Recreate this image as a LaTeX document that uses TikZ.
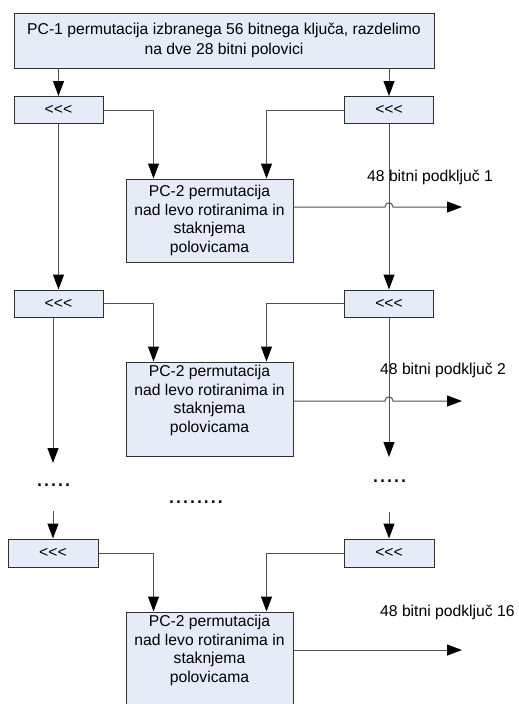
\documentclass[tikz,border=0pt]{standalone}
\usepackage{fontspec}
\setmainfont{Liberation Sans}
\usetikzlibrary{arrows.meta}
\definecolor{boxfill}{HTML}{E6ECF7}
\definecolor{linec}{HTML}{505050}
\definecolor{boxline}{HTML}{303030}
\begin{document}
\begin{tikzpicture}[x=1pt,y=-1pt,
  box/.style={draw=boxline, fill=boxfill, line width=1pt, inner sep=0pt},
  rot/.style={box, minimum width=89pt, minimum height=27pt, font=\fontsize{15.7}{18.5}\selectfont},
  pcbox/.style={box, minimum width=167pt},
  txt/.style={font=\fontsize{15.7}{18.5}\selectfont, align=center, inner sep=0pt},
  lbl/.style={font=\fontsize{15.7}{18.5}\selectfont, inner sep=0pt, anchor=west},
  dotst/.style={font=\fontsize{25}{25}\selectfont, inner sep=0pt, anchor=base west},
  conn/.style={draw=linec, line width=1pt},
  arr/.style={conn, -{Triangle[length=15pt,width=11pt,color=black]}}]
\useasboundingbox (0,0) rectangle (519,704);
\clip (0,0) rectangle (519,704);
% top box
\node[box, txt, minimum width=420pt, minimum height=55pt] (pc1) at (224,40.5)
  {PC-1 permutacija izbranega 56 bitnega ključa, razdelimo\\[1.5pt]na dve 28 bitni polovici};
% rotation boxes
\node[rot] (l1) at (58.5,110) {<{}<{}<};
\node[rot] (r1) at (389,110) {<{}<{}<};
\node[rot] (l2) at (58.5,303.5) {<{}<{}<};
\node[rot] (r2) at (389,303.5) {<{}<{}<};
\node[rot, minimum width=90pt, minimum height=28pt] (l3) at (53,553) {<{}<{}<};
\node[rot, minimum width=90pt, minimum height=28pt] (r3) at (389,553) {<{}<{}<};
% PC-2 boxes
\node[pcbox, minimum height=83pt] (p1) at (209.5,220.5) {};
\node[pcbox, minimum height=94pt] (p2) at (209.5,409) {};
\node[pcbox, minimum height=98pt] (p3) at (209.5,661) {};
\node[txt, anchor=north] (t1) at ([yshift=-6.7pt]p1.north) {PC-2 permutacija\\nad levo rotiranima in\\staknjema\\polovicama};
\node[txt, anchor=north] (t2) at ([yshift=-3.7pt]p2.north) {PC-2 permutacija\\nad levo rotiranima in\\staknjema\\polovicama};
\node[txt, anchor=north] (t3) at ([yshift=-3.7pt]p3.north) {PC-2 permutacija\\nad levo rotiranima in\\staknjema\\polovicama};
% labels
\node[lbl] (k1) at (367,177) {48 bitni podključ 1};
\node[lbl] (k2) at (380,370) {48 bitni podključ 2};
\node[lbl] (k3) at (380,612) {48 bitni podključ 16};
% dots
\node[dotst] (d1) at (36,486.5) {.....};
\node[dotst] (d2) at (372,482.5) {.....};
\node[dotst] (d3) at (168,503.5) {........};
% coordinates
\coordinate (le) at (53,463);
\coordinate (re) at (389,457);
\coordinate (ls) at (53,511);
\coordinate (rs) at (389,512);
\coordinate (o1) at (462,207);
\coordinate (h1) at (389,207);
\coordinate (o2) at (462,401);
\coordinate (h2) at (389,401);
\coordinate (o3) at (462,650);
% connectors
\draw[arr] (pc1.south -| l1) -- (l1.north);
\draw[arr] (pc1.south -| r1) -- (r1.north);
\draw[arr] (l1.east) -| ([xshift=28pt]p1.north west);
\draw[arr] (r1.west) -| ([xshift=-27pt]p1.north east);
\draw[arr] (l1) -- (l2);
\draw[arr] (r1) -- (r2);
\draw[arr] (l2.east) -| ([xshift=28pt]p2.north west);
\draw[arr] (r2.west) -| ([xshift=-27pt]p2.north east);
\draw[arr] (l2.south -| le) -- (le);
\draw[arr] (r2) -- (re);
\draw[arr] (ls) -- (l3);
\draw[arr] (rs) -- (r3);
\draw[arr] (l3.east) -| ([xshift=28pt]p3.north west);
\draw[arr] (r3.west) -| ([xshift=-27pt]p3.north east);
% outputs
\draw[arr] (p1.east |- o1) -- ([xshift=-4pt]h1) .. controls ([xshift=-4pt,yshift=5.5pt]h1) and ([xshift=4pt,yshift=5.5pt]h1) .. ([xshift=4pt]h1) -- (o1);
\draw[arr] (p2.east |- o2) -- ([xshift=-4pt]h2) .. controls ([xshift=-4pt,yshift=5.5pt]h2) and ([xshift=4pt,yshift=5.5pt]h2) .. ([xshift=4pt]h2) -- (o2);
\draw[arr] (p3.east |- o3) -- (o3);
\end{tikzpicture}
\end{document}
